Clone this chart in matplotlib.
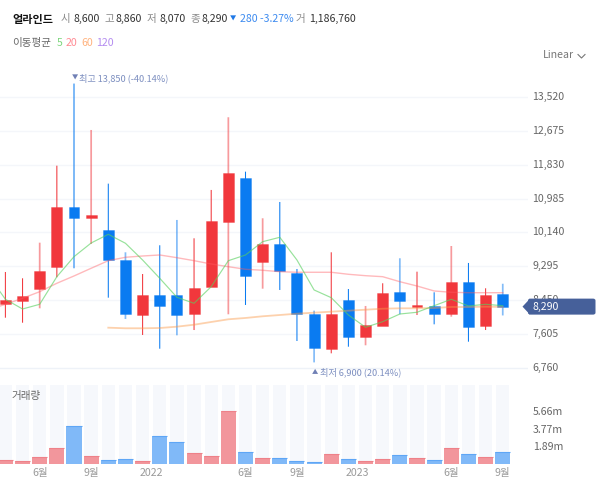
import matplotlib
matplotlib.use('Agg')
import matplotlib.pyplot as plt
from matplotlib.colors import to_rgba
from matplotlib.patches import Polygon, FancyBboxPatch
import numpy as np

plt.rcParams['font.family'] = ['Noto Sans CJK KR', 'DejaVu Sans']

opens = [8363, 8423, 8729, 9285, 10766, 10507, 10200, 9452, 8081, 8572, 8572, 8106, 8779, 10400, 11504,
         9395, 9851, 9128, 8099, 7241, 8448, 7533, 7807, 8662, 8281, 8313, 8099, 8904, 7807, 8600]
highs = [9153, 8996, 9884, 11803, 13850, 12693, 11355, 9644, 9103, 9819, 10450, 9993, 11198, 13010, 11654,
         10492, 10898, 9228, 8189, 9644, 8729, 8306, 8872, 9495, 9161, 8647, 9801, 9378, 8747, 8860]
lows = [8014, 7889, 8248, 9021, 9246, 9851, 8513, 7982, 7583, 7241, 7575, 7707, 8779, 8099, 8331,
        8737, 8705, 7433, 6900, 7126, 7291, 7326, 7807, 8099, 8081, 7849, 8039, 7416, 7707, 8070]
closes = [8448, 8555, 9186, 10766, 10507, 10567, 9452, 8106, 8572, 8313, 8081, 8754, 10417, 11621, 9061,
          9851, 9178, 8106, 7266, 8114, 7533, 7825, 8622, 8430, 8331, 8099, 8904, 7790, 8580, 8290]
volumes = [.39, .29, .72, 1.69, 4.06, .83, .39, .47, .29, 3.02, 2.33, 1.15, .83, 5.67, 1.22,
           .57, .65, .29, .18, 1.04, .47, .29, .47, .93, .57, .39, 1.69, 1.04, .72, 1.22]

ma5 = [9078, 8473, 8231, 8348, 9036, 9535, 9876, 10093, 9869, 9452, 8996, 8523, 8373, 8787, 9435, 9577,
       9909, 10018, 9452, 8705, 8513, 8081, 7775, 7914, 8106, 8149, 8313, 8473, 8306, 8348, 8313]
ma20 = [8206, 8348, 8498, 8662, 8872, 9054, 9246, 9435, 9520, 9552, 9577, 9510, 9435, 9353, 9285, 9221,
        9196, 9161, 9146, 9146, 9146, 9096, 9061, 9036, 8911, 8804, 8680, 8647, 8637, 8637, 8637]
ma60 = [7765, 7750, 7750, 7757, 7790, 7839, 7907, 7974, 8007, 8049, 8081, 8114, 8139, 8164, 8189, 8213,
        8238, 8248, 8248, 8256, 8281, 8281, 8288, 8281]

price_ticks = [6760, 7605, 8450, 9295, 10140, 10985, 11830, 12675, 13520]
vol_ticks = [1.89, 3.77, 5.66]
vol_tick_labels = ['1.89m', '3.77m', '5.66m']
date_pos = [2, 5, 8.5, 14, 17, 20.5, 26, 29]
date_labels = ['6월', '9월', '2022', '6월', '9월', '2023', '6월', '9월']

# wicks that come out blurred in the reference
soft_wicks = [2, 5, 7, 10, 13, 15, 18, 21, 23, 26, 29]

RED = '#f1373c'
BLUE = '#0a7bf1'
W, H = 600, 488
STEP = 17.15
X0 = 5.4
PX_PRICE = 845 / 33.9

def rect(left, top, right, bottom):
    return [left / W, 1 - bottom / H, (right - left) / W, (bottom - top) / H]

def ftext(x, y, s, **kw):
    kw.setdefault('va', 'center')
    return fig.text(x / W, 1 - y / H, s, **kw)

fig = plt.figure(figsize=(6, 4.88), dpi=100)

ax = fig.add_axes(rect(0, 70, 528, 378))
vax = fig.add_axes(rect(0, 384.7, 528, 463.7))
for a in (ax, vax):
    a.set_xlim(-X0 / STEP, (528 - X0) / STEP)
    for s in a.spines.values():
        s.set_visible(False)
    a.tick_params(length=0)
    a.set_facecolor('none')

ax.set_ylim(6760 - 10 * PX_PRICE, 6760 + 298 * PX_PRICE)
ax.set_xticks([])
ax.set_yticks([])
for t in price_ticks:
    ax.axhline(t, color='#eef2f8' if t == 6760 else '#f4f6fa', lw=1, zorder=0)
    ax.text(1.0085, t, f'{t:,}', transform=ax.get_yaxis_transform(), va='center', ha='left',
            fontsize=7.6, color='#666666', clip_on=False)

x = np.arange(len(opens))
colors = [RED if c >= o else BLUE for o, c in zip(opens, closes)]
is_soft = np.isin(x, soft_wicks)
for mask, lw, alpha in [(~is_soft, 0.75, 1.0), (is_soft, 1.25, 0.5)]:
    wicks = ax.vlines(x[mask], np.array(lows)[mask], np.array(highs)[mask],
                      colors=[to_rgba(c, alpha) for c, m in zip(colors, mask) if m], lw=lw, zorder=3)
    wicks.set_snap(False)
body_low = np.minimum(opens, closes)
body_h = np.abs(np.array(closes) - np.array(opens))
ax.bar(x, body_h, 0.64, bottom=body_low, color=colors,
       edgecolor=[to_rgba(c, 0.35) for c in colors], lw=0.7, zorder=4)
ax.plot(np.arange(-1, 30), ma20, color='#ff5a60', alpha=0.42, lw=1.0, zorder=5)
ax.plot(np.arange(6, 30), ma60, color='#fb9a4a', alpha=0.45, lw=1.3, zorder=5)
ax.plot(np.arange(-1, 30), ma5, color='#58d05e', alpha=0.62, lw=0.85, zorder=6)

vax.set_ylim(0, 79 * 5.66 / 52.6)
vax.bar(x, [vax.get_ylim()[1]] * len(x), 0.78, color='#f6f8fc', lw=0, zorder=1)
vcolors = ['#f2969c' if c == RED else '#80b9f8' for c in colors]
vax.bar(x, volumes, 0.88, color=vcolors, lw=0, zorder=2)
vax.hlines(volumes, x - 0.44, x + 0.44, colors=['#ee8189' if c == RED else '#5ea6f6' for c in colors],
           lw=0.8, zorder=3)
vax.set_yticks(vol_ticks)
vax.set_yticklabels(vol_tick_labels, fontsize=7.6, color='#666666')
vax.yaxis.tick_right()
vax.tick_params(axis='y', pad=3.4)
vax.set_xticks(date_pos)
vax.set_xticklabels(date_labels, fontsize=7.6, color='#9a9a9a')
vax.tick_params(axis='x', pad=3)

# header
ftext(12, 19, '얼라인드', fontsize=8, fontweight='bold', color='#111111')
header = [(61, '시', '#8a8a8a'), (73, '8,600', '#333333'), (104, '고', '#8a8a8a'), (116, '8,860', '#333333'),
          (147, '저', '#8a8a8a'), (159, '8,070', '#333333'), (190, '종', '#8a8a8a'), (201, '8,290', '#333333'),
          (240, '280 -3.27%', '#3d8bf0'), (296, '거', '#8a8a8a'), (309, '1,186,760', '#333333')]
for hx, s, c in header:
    ftext(hx, 19, s, fontsize=7.6, color=c)
ftext(230, 19, '▼', fontsize=4.5, color='#1f78e6')
ftext(12, 43, '이동평균', fontsize=7.6, color='#666666')
for hx, s, c in [(57, '5', '#7fd67f'), (66, '20', '#ff8a93'), (81, '60', '#ffb27d'), (96, '120', '#b48cf0')]:
    ftext(hx, 43, s, fontsize=7.6, color=c)
ftext(543, 55, 'Linear', fontsize=7.6, color='#777777')
fig.add_artist(plt.Line2D([578 / W, 581.5 / W, 585 / W], [1 - 54.5 / H, 1 - 58 / H, 1 - 54.5 / H],
                          color='#777777', lw=0.8))

# high / low notes
ftext(72, 78, '▼', fontsize=4.5, color='#7080b5')
ftext(79, 78, '최고 13,850 (-40.14%)', fontsize=6.6, color='#7d8fc0', fontweight='medium')
ftext(312, 372, '▲', fontsize=4.5, color='#7080b5')
ftext(320, 372, '최저 6,900 (20.14%)', fontsize=6.6, color='#7d8fc0', fontweight='medium')
ftext(12, 396, '거래량', fontsize=7.6, color='#666666')

# last price tag
ty_px = H - ax.transData.transform((0, closes[-1]))[1]
tag = FancyBboxPatch((528 / W, 1 - (ty_px + 8) / H), 67.5 / W, 16 / H, boxstyle='round,pad=0,rounding_size=0.004',
                     transform=fig.transFigure, fc='#46609a', ec='none', zorder=5)
tip = Polygon([(522.5 / W, 1 - ty_px / H), (530 / W, 1 - (ty_px - 8) / H), (530 / W, 1 - (ty_px + 8) / H)],
              transform=fig.transFigure, fc='#46609a', ec='none', zorder=5)
fig.add_artist(tag)
fig.add_artist(tip)
ftext(532.5, ty_px, f'{closes[-1]:,}', fontsize=7.6, color='white', zorder=6)

fig.savefig('out.png', dpi=100)
